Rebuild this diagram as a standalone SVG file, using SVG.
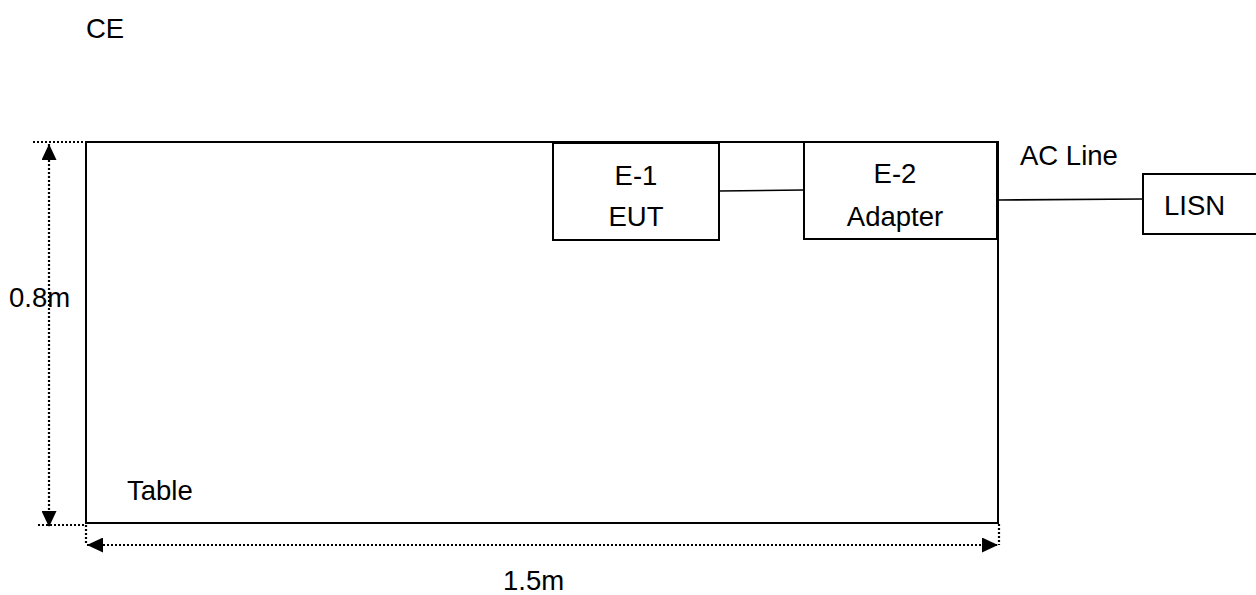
<svg xmlns="http://www.w3.org/2000/svg" width="1256" height="595" viewBox="0 0 1256 595">
<defs>
<style>
text{font-family:"Liberation Sans",Arial,sans-serif;font-size:27.5px;fill:#000}
.box{fill:#fff;stroke:#000;stroke-width:2}
.wire{stroke:#000;stroke-width:1.6;fill:none}
.dim{stroke:#000;stroke-width:2.2;stroke-dasharray:2 2;fill:none}
.c{text-anchor:middle}
</style>
<marker id="ah" viewBox="0 0 16 15" refX="16" refY="7.5" markerWidth="16" markerHeight="15" markerUnits="userSpaceOnUse" orient="auto-start-reverse">
<path d="M0,0 L16,7.5 L0,15 Z" fill="#000"/>
</marker>
</defs>
<rect width="1256" height="595" fill="#fff"/>
<text x="86" y="38">CE</text>
<g id="table">
<rect class="box" x="86" y="142" width="912" height="381"/>
<text x="127" y="500">Table</text>
</g>
<g id="dimensions">
<line class="dim" x1="33" y1="142" x2="86" y2="142"/>
<line class="dim" x1="38" y1="525" x2="86" y2="525"/>
<line class="dim" x1="49" y1="144" x2="49" y2="527" marker-start="url(#ah)" marker-end="url(#ah)"/>
<line class="dim" x1="86" y1="525" x2="86" y2="545"/>
<line class="dim" x1="999" y1="524" x2="999" y2="545"/>
<line class="dim" x1="87" y1="545" x2="998" y2="545" marker-start="url(#ah)" marker-end="url(#ah)"/>
<text x="9" y="307">0.8m</text>
<text x="503" y="590">1.5m</text>
</g>
<g id="connectors">
<line class="wire" x1="719" y1="191" x2="804" y2="190"/>
<line class="wire" x1="998" y1="200" x2="1143" y2="199"/>
<text x="1020" y="165">AC Line</text>
</g>
<g id="e1-eut">
<rect class="box" x="553" y="143" width="166" height="97"/>
<text class="c" x="636" y="185">E-1</text>
<text class="c" x="636" y="226">EUT</text>
</g>
<g id="e2-adapter">
<rect class="box" x="804" y="142" width="193" height="97"/>
<text class="c" x="895" y="183">E-2</text>
<text class="c" x="895" y="226">Adapter</text>
</g>
<g id="lisn">
<rect class="box" x="1143" y="174" width="130" height="60"/>
<text x="1164" y="215">LISN</text>
</g>
</svg>
